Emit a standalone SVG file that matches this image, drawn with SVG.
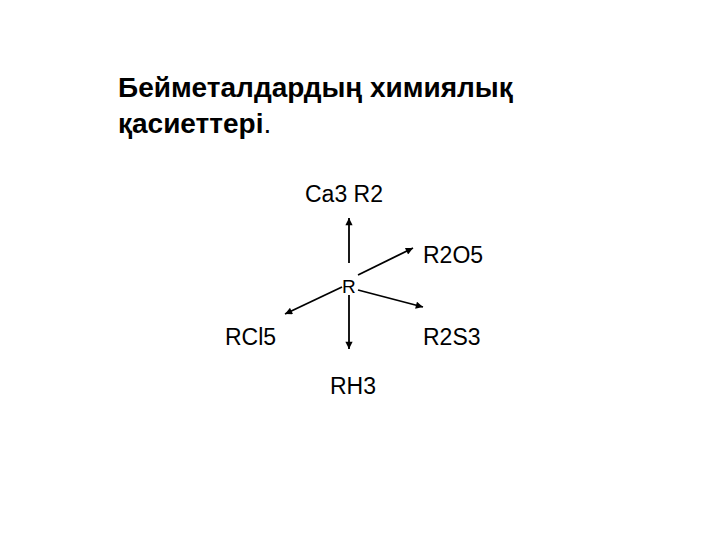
<svg xmlns="http://www.w3.org/2000/svg" width="720" height="540" viewBox="0 0 720 540">
<defs>
<marker id="ah" viewBox="0 0 10 10" refX="10" refY="5" markerWidth="5" markerHeight="4" markerUnits="strokeWidth" orient="auto">
<path d="M0,0 L10,5 L0,10 z" fill="#000"/>
</marker>
<style>
.t{font-family:"Liberation Sans",Arial,sans-serif;fill:#000}
.title{font-size:28px;font-weight:bold}
.lbl{font-size:23px}
.c{stroke:#000;stroke-width:1.8;fill:none;marker-end:url(#ah)}
</style>
</defs>
<rect width="720" height="540" fill="#fff"/>
<g id="title">
<text class="t title" x="118" y="97">Бейметалдардың химиялық</text>
<text class="t title" x="118" y="133">қасиеттері<tspan font-weight="normal">.</tspan></text>
</g>
<g id="node-R"><text class="t" font-size="19" x="342" y="293">R</text></g>
<g id="node-Ca3R2"><text class="t lbl" x="305" y="202">Ca3 R2</text></g>
<g id="node-R2O5"><text class="t lbl" x="423" y="263">R2O5</text></g>
<g id="node-RCl5"><text class="t lbl" x="225" y="345">RCl5</text></g>
<g id="node-R2S3"><text class="t lbl" x="423" y="345">R2S3</text></g>
<g id="node-RH3"><text class="t lbl" x="330" y="394">RH3</text></g>
<g id="connectors">
<line class="c" x1="349" y1="263" x2="349" y2="218"/>
<line class="c" x1="349" y1="295" x2="349" y2="349"/>
<line class="c" x1="358" y1="275" x2="413" y2="248"/>
<line class="c" x1="358" y1="290" x2="423" y2="307"/>
<line class="c" x1="342" y1="287" x2="285" y2="314"/>
</g>
</svg>
